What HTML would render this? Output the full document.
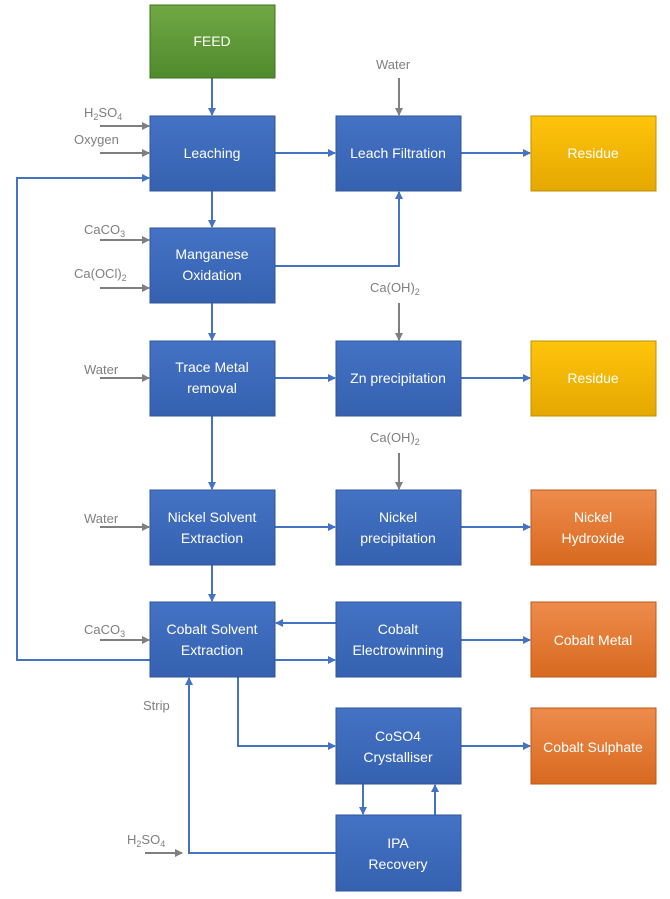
<!DOCTYPE html>
<html><head><meta charset="utf-8"><style>
body{margin:0;background:#fff;}
svg text{font-family:"Liberation Sans",sans-serif;}
.w{fill:#fff;font-size:14px;text-anchor:middle}
.g{fill:#7f7f7f;font-size:13px}
</style></head><body>
<svg width="670" height="894" viewBox="0 0 670 894" xmlns="http://www.w3.org/2000/svg">
<defs>
<linearGradient id="b" x1="0" y1="0" x2="0" y2="1"><stop offset="0" stop-color="#4472c4"/><stop offset="1" stop-color="#3561b0"/></linearGradient>
<linearGradient id="gr" x1="0" y1="0" x2="0" y2="1"><stop offset="0" stop-color="#70a844"/><stop offset="1" stop-color="#4f8a2c"/></linearGradient>
<linearGradient id="y" x1="0" y1="0" x2="0" y2="1"><stop offset="0" stop-color="#ffc40c"/><stop offset="1" stop-color="#e4a800"/></linearGradient>
<linearGradient id="o" x1="0" y1="0" x2="0" y2="1"><stop offset="0" stop-color="#ee8c4c"/><stop offset="1" stop-color="#d8691f"/></linearGradient>
<marker id="ab" markerWidth="8" markerHeight="8" refX="7" refY="4" orient="auto" markerUnits="userSpaceOnUse"><path d="M0,0 L8,4 L0,8z" fill="#4472c4"/></marker>
<marker id="ag" markerWidth="8" markerHeight="8" refX="7" refY="4" orient="auto" markerUnits="userSpaceOnUse"><path d="M0,0 L8,4 L0,8z" fill="#7f7f7f"/></marker>
</defs>
<g stroke="#4472c4" stroke-width="2" fill="none" marker-end="url(#ab)">
<path d="M212,78V115"/><path d="M212,191V227"/><path d="M212,303V340"/><path d="M212,416V489"/><path d="M212,565V601"/>
<path d="M275,153H335"/><path d="M461,153H530"/>
<path d="M275,266H399V192"/>
<path d="M275,378H335"/><path d="M461,378H530"/>
<path d="M275,527H335"/><path d="M461,527H530"/>
<path d="M150,660H17V178H149"/>
<path d="M275,660H335"/><path d="M336,623H276"/><path d="M461,640H530"/>
<path d="M238,677V746H335"/><path d="M461,746H530"/>
<path d="M363,784V814"/><path d="M435,815V785"/>
<path d="M336,853H189V678"/>
</g>
<g stroke="#7f7f7f" stroke-width="2" fill="none" marker-end="url(#ag)">
<path d="M100,126H149"/><path d="M100,153H149"/><path d="M100,240H149"/><path d="M100,288H149"/>
<path d="M100,378H149"/><path d="M100,527H149"/><path d="M100,640H149"/><path d="M145,853H182"/>
<path d="M399,78V115"/><path d="M399,303V340"/><path d="M399,453V489"/>
</g>
<g stroke="#2f5597" stroke-width="1">
<rect x="150" y="5" width="125" height="73" fill="url(#gr)" stroke="#3f7020"/>
<rect x="150" y="116" width="125" height="75" fill="url(#b)"/>
<rect x="336" y="116" width="125" height="75" fill="url(#b)"/>
<rect x="531" y="116" width="125" height="75" fill="url(#y)" stroke="#c09000"/>
<rect x="150" y="228" width="125" height="75" fill="url(#b)"/>
<rect x="150" y="341" width="125" height="75" fill="url(#b)"/>
<rect x="336" y="341" width="125" height="75" fill="url(#b)"/>
<rect x="531" y="341" width="125" height="75" fill="url(#y)" stroke="#c09000"/>
<rect x="150" y="490" width="125" height="75" fill="url(#b)"/>
<rect x="336" y="490" width="125" height="75" fill="url(#b)"/>
<rect x="531" y="490" width="125" height="75" fill="url(#o)" stroke="#b85a1a"/>
<rect x="150" y="602" width="125" height="75" fill="url(#b)"/>
<rect x="336" y="602" width="125" height="75" fill="url(#b)"/>
<rect x="531" y="602" width="125" height="75" fill="url(#o)" stroke="#b85a1a"/>
<rect x="336" y="708" width="125" height="76" fill="url(#b)"/>
<rect x="531" y="708" width="125" height="76" fill="url(#o)" stroke="#b85a1a"/>
<rect x="336" y="815" width="125" height="76" fill="url(#b)"/>
</g>
<text class="w" x="212" y="46">FEED</text>
<text class="w" x="212" y="158">Leaching</text>
<text class="w" x="398" y="158">Leach Filtration</text>
<text class="w" x="593" y="158">Residue</text>
<text class="w" x="212" y="259">Manganese</text><text class="w" x="212" y="280">Oxidation</text>
<text class="w" x="212" y="372">Trace Metal</text><text class="w" x="212" y="393">removal</text>
<text class="w" x="398" y="383">Zn precipitation</text>
<text class="w" x="593" y="383">Residue</text>
<text class="w" x="212" y="522">Nickel Solvent</text><text class="w" x="212" y="543">Extraction</text>
<text class="w" x="398" y="522">Nickel</text><text class="w" x="398" y="543">precipitation</text>
<text class="w" x="593" y="522">Nickel</text><text class="w" x="593" y="543">Hydroxide</text>
<text class="w" x="212" y="634">Cobalt Solvent</text><text class="w" x="212" y="655">Extraction</text>
<text class="w" x="398" y="634">Cobalt</text><text class="w" x="398" y="655">Electrowinning</text>
<text class="w" x="593" y="645">Cobalt Metal</text>
<text class="w" x="398" y="741">CoSO4</text><text class="w" x="398" y="762">Crystalliser</text>
<text class="w" x="593" y="752">Cobalt Sulphate</text>
<text class="w" x="398" y="848">IPA</text><text class="w" x="398" y="869">Recovery</text>
<text class="g" x="84" y="117">H<tspan font-size="9" dy="3">2</tspan><tspan dy="-3">SO</tspan><tspan font-size="9" dy="3">4</tspan></text>
<text class="g" x="74" y="144">Oxygen</text>
<text class="g" x="84" y="234">CaCO<tspan font-size="9" dy="3">3</tspan></text>
<text class="g" x="74" y="278">Ca(OCl)<tspan font-size="9" dy="3">2</tspan></text>
<text class="g" x="84" y="374">Water</text>
<text class="g" x="84" y="523">Water</text>
<text class="g" x="84" y="634">CaCO<tspan font-size="9" dy="3">3</tspan></text>
<text class="g" x="143" y="710">Strip</text>
<text class="g" x="127" y="844">H<tspan font-size="9" dy="3">2</tspan><tspan dy="-3">SO</tspan><tspan font-size="9" dy="3">4</tspan></text>
<text class="g" x="376" y="69">Water</text>
<text class="g" x="370" y="292">Ca(OH)<tspan font-size="9" dy="3">2</tspan></text>
<text class="g" x="370" y="442">Ca(OH)<tspan font-size="9" dy="3">2</tspan></text>
</svg>
</body></html>
